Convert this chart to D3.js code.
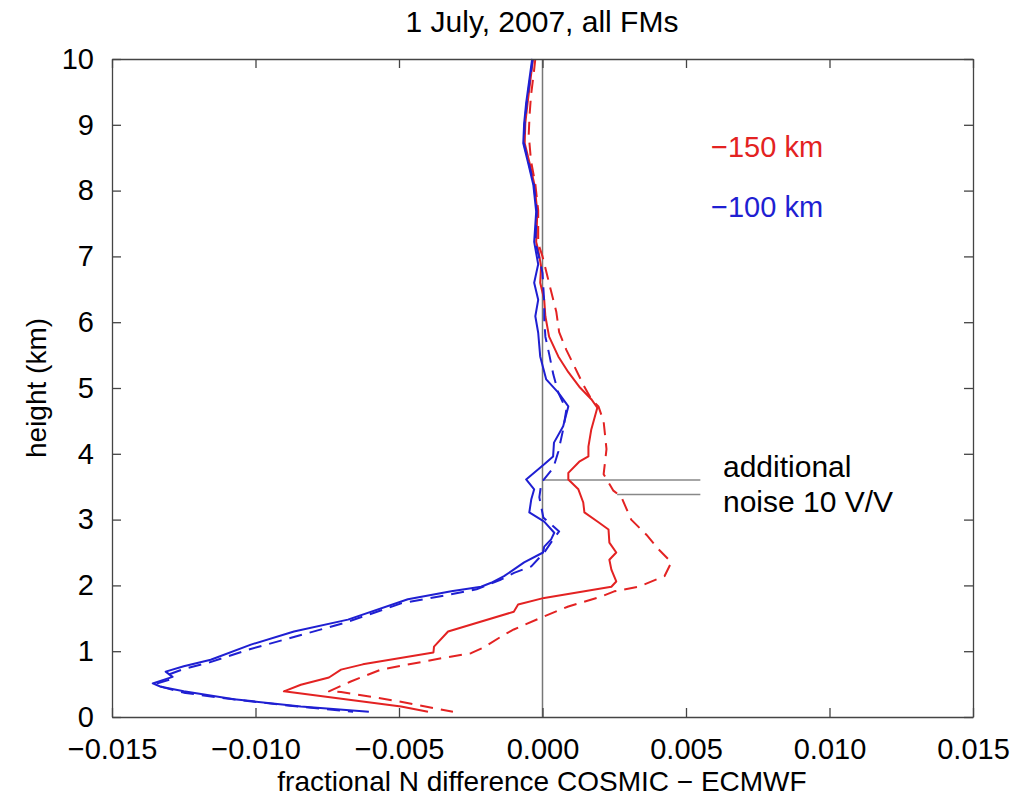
<!DOCTYPE html>
<html>
<head>
<meta charset="utf-8">
<script src="https://cdn.jsdelivr.net/npm/d3@7"></script>
<style>
  html, body { margin: 0; padding: 0; background: #fff; }
  svg { display: block; }
  text { font-family: "Liberation Sans", Arial, sans-serif; }
</style>
</head>
<body>
<svg id="chart" width="1014" height="799"></svg>
<script>
// ---- data: [height (km), fractional N difference ×1e-3] ----
const xTicks = [-0.015, -0.010, -0.005, 0.000, 0.005, 0.010, 0.015];
const yTicks = [0, 1, 2, 3, 4, 5, 6, 7, 8, 9, 10];

const blueSolid = [
  [10.0,-0.36],[9.33,-0.57],[9.02,-0.64],[8.72,-0.67],[8.42,-0.50],[8.09,-0.32],[7.68,-0.22],
  [7.22,-0.29],[6.88,-0.15],[6.60,-0.29],[6.34,-0.15],[6.09,-0.25],[5.84,-0.15],[5.48,-0.08],
  [5.13,0.13],[4.93,0.55],[4.72,0.90],[4.42,0.72],[4.17,0.40],[3.96,0.37],[3.84,0.06],
  [3.61,-0.57],[3.46,-0.29],[3.31,-0.39],[3.11,-0.46],[2.97,0.06],[2.80,0.41],[2.70,0.30],
  [2.59,0.06],[2.50,0.02],[2.35,-0.64],[2.14,-1.34],[2.04,-1.79],[1.98,-2.14],[1.91,-3.18],
  [1.79,-4.69],[1.48,-6.78],[1.30,-8.66],[1.10,-10.16],[0.87,-11.56],[0.77,-12.50],
  [0.69,-13.13],[0.61,-12.89],[0.51,-13.58],[0.46,-13.30],[0.39,-12.50],[0.27,-10.75],
  [0.16,-8.42],[0.08,-6.05]
];
const blueDashed = [
  [10.0,-0.34],[9.33,-0.55],[9.02,-0.62],[8.72,-0.65],[8.42,-0.48],[8.09,-0.30],[7.68,-0.20],
  [7.22,-0.25],[6.95,-0.10],[6.75,0.00],[6.30,0.06],[6.05,0.06],[5.78,0.10],[5.50,0.24],
  [5.20,0.38],[4.93,0.55],[4.67,0.83],[4.37,0.72],[4.03,0.55],[3.79,0.38],[3.56,-0.04],
  [3.34,-0.11],[3.03,0.03],[2.82,0.58],[2.70,0.37],[2.50,0.06],[2.29,-0.39],[2.19,-0.99],
  [2.09,-1.44],[1.94,-2.30],[1.84,-3.50],[1.73,-4.90],[1.43,-6.90],[1.03,-10.20],
  [0.83,-11.60],[0.73,-12.50],[0.65,-13.00],[0.58,-12.90],[0.50,-13.50],[0.45,-13.20],
  [0.37,-12.50],[0.28,-11.00],[0.17,-8.80],[0.08,-6.60]
];
const redSolid = [
  [10.0,-0.33],[9.33,-0.52],[9.02,-0.60],[8.72,-0.62],[8.42,-0.45],[8.09,-0.28],[7.68,-0.18],
  [7.22,-0.22],[7.10,-0.15],[6.85,-0.05],[6.60,-0.08],[6.34,0.06],[6.09,0.10],[5.78,0.23],
  [5.48,0.55],[5.24,0.90],[5.02,1.28],[4.83,1.70],[4.70,1.91],[4.37,1.70],[4.11,1.60],
  [3.96,1.60],[3.88,1.28],[3.71,0.90],[3.61,0.90],[3.46,1.25],[3.26,1.42],[3.11,1.46],
  [2.96,1.95],[2.85,2.30],[2.65,2.33],[2.50,2.57],[2.39,2.33],[2.24,2.40],[2.06,2.57],
  [1.98,2.40],[1.81,0.06],[1.71,-0.85],[1.60,-1.00],[1.30,-3.29],[1.07,-3.78],[0.98,-3.80],
  [0.80,-6.26],[0.72,-7.02],[0.60,-7.44],[0.49,-8.42],[0.39,-9.01],[0.16,-4.93],[0.08,-3.99]
];
const redDashed = [
  [10.0,-0.25],[9.80,-0.30],[9.45,-0.40],[9.15,-0.45],[8.85,-0.48],[8.45,-0.40],[8.10,-0.25],
  [7.70,-0.15],[7.20,-0.15],[7.00,0.00],[6.77,0.13],[6.47,0.30],[6.16,0.48],[5.85,0.58],
  [5.58,0.83],[5.33,1.11],[5.05,1.42],[4.83,1.70],[4.72,1.95],[4.49,2.13],[4.07,2.23],
  [3.69,2.13],[3.44,2.47],[3.35,2.74],[3.00,3.09],[2.77,3.62],[2.55,4.04],[2.35,4.49],
  [2.14,4.25],[1.98,3.35],[1.91,2.50],[1.83,2.04],[1.68,0.90],[1.53,0.06],[1.33,-1.00],
  [1.25,-1.34],[1.06,-2.04],[0.97,-2.49],[0.90,-3.43],[0.72,-5.63],[0.54,-6.68],[0.39,-7.44],
  [0.38,-7.02],[0.24,-5.03],[0.08,-3.12]
];

const series = [
  { data: redSolid,   color: "#e32222", dash: null },
  { data: redDashed,  color: "#e32222", dash: "13,8" },
  { data: blueDashed, color: "#1f1fd2", dash: "13,8" },
  { data: blueSolid,  color: "#1f1fd2", dash: null }
];

const titleText = "1 July, 2007, all FMs";
const xLabel = "fractional N difference COSMIC \u2212 ECMWF";
const yLabel = "height (km)";
const legendItems = [
  { label: "\u2212150 km", color: "#e32222" },
  { label: "\u2212100 km", color: "#1f1fd2" }
];
const noteLines = ["additional", "noise 10 V/V"];
const noteHeights = [3.6, 3.38];   // heights of the two grey annotation lines
const noteStarts = [0.0, 0.0026];  // x start of the annotation lines
const noteEnd = 0.0055;

// ---- layout ----
const L = 112, R = 973, T = 59, B = 717;
const svg = d3.select("#chart");
const x = d3.scaleLinear().domain([-0.015, 0.015]).range([L, R]);
const y = d3.scaleLinear().domain([0, 10]).range([B, T]);

// zero line
svg.append("line")
  .attr("x1", x(0)).attr("x2", x(0)).attr("y1", y(0)).attr("y2", y(10))
  .attr("stroke", "#777").attr("stroke-width", 1.5);

// annotation lines
noteHeights.forEach((h, i) => {
  svg.append("line")
    .attr("x1", x(noteStarts[i])).attr("x2", x(noteEnd))
    .attr("y1", y(h)).attr("y2", y(h))
    .attr("stroke", "#888").attr("stroke-width", 1.5);
});

// series
const line = d3.line().x(d => x(d[1] / 1000)).y(d => y(d[0]));
series.forEach(s => {
  svg.append("path")
    .attr("d", line(s.data))
    .attr("fill", "none")
    .attr("stroke", s.color)
    .attr("stroke-width", 2)
    .attr("stroke-linejoin", "round")
    .attr("stroke-dasharray", s.dash);
});

// axes
const fmt = d3.format(".3f");
const axStyle = g => {
  g.select(".domain").attr("stroke", "#444").attr("stroke-width", 1.3);
  g.selectAll(".tick line").attr("stroke", "#444").attr("stroke-width", 1.3);
  g.selectAll("text").attr("fill", "#000").attr("font-size", 29)
    .attr("font-family", "'Liberation Sans', Arial, sans-serif");
};
svg.append("g").attr("transform", `translate(0,${B})`)
  .call(d3.axisBottom(x).tickValues(xTicks).tickFormat(fmt).tickSizeInner(-9).tickSizeOuter(0).tickPadding(21))
  .call(axStyle);
svg.append("g").attr("transform", `translate(0,${T})`)
  .call(d3.axisTop(x).tickValues(xTicks).tickFormat("").tickSizeInner(-9).tickSizeOuter(0))
  .call(axStyle);
svg.append("g").attr("transform", `translate(${L},0)`)
  .call(d3.axisLeft(y).tickValues(yTicks).tickFormat(d3.format("d")).tickSizeInner(-9).tickSizeOuter(0).tickPadding(18))
  .call(axStyle);
svg.append("g").attr("transform", `translate(${R},0)`)
  .call(d3.axisRight(y).tickValues(yTicks).tickFormat("").tickSizeInner(-9).tickSizeOuter(0))
  .call(axStyle);

// title and labels
svg.append("text").attr("x", 542).attr("y", 32).attr("text-anchor", "middle")
  .attr("font-size", 30).text(titleText);
svg.append("text").attr("x", 542).attr("y", 791).attr("text-anchor", "middle")
  .attr("font-size", 28).text(xLabel);
svg.append("text").attr("transform", `translate(46,${(T + B) / 2}) rotate(-90)`)
  .attr("text-anchor", "middle").attr("font-size", 28).text(yLabel);

// legend
legendItems.forEach((d, i) => {
  svg.append("text").attr("x", 711).attr("y", 157 + i * 60)
    .attr("font-size", 29).attr("fill", d.color).text(d.label);
});

// annotation text
noteLines.forEach((t, i) => {
  svg.append("text").attr("x", 723).attr("y", 477 + i * 35)
    .attr("font-size", 30).attr("fill", "#000").text(t);
});
</script>
</body>
</html>
